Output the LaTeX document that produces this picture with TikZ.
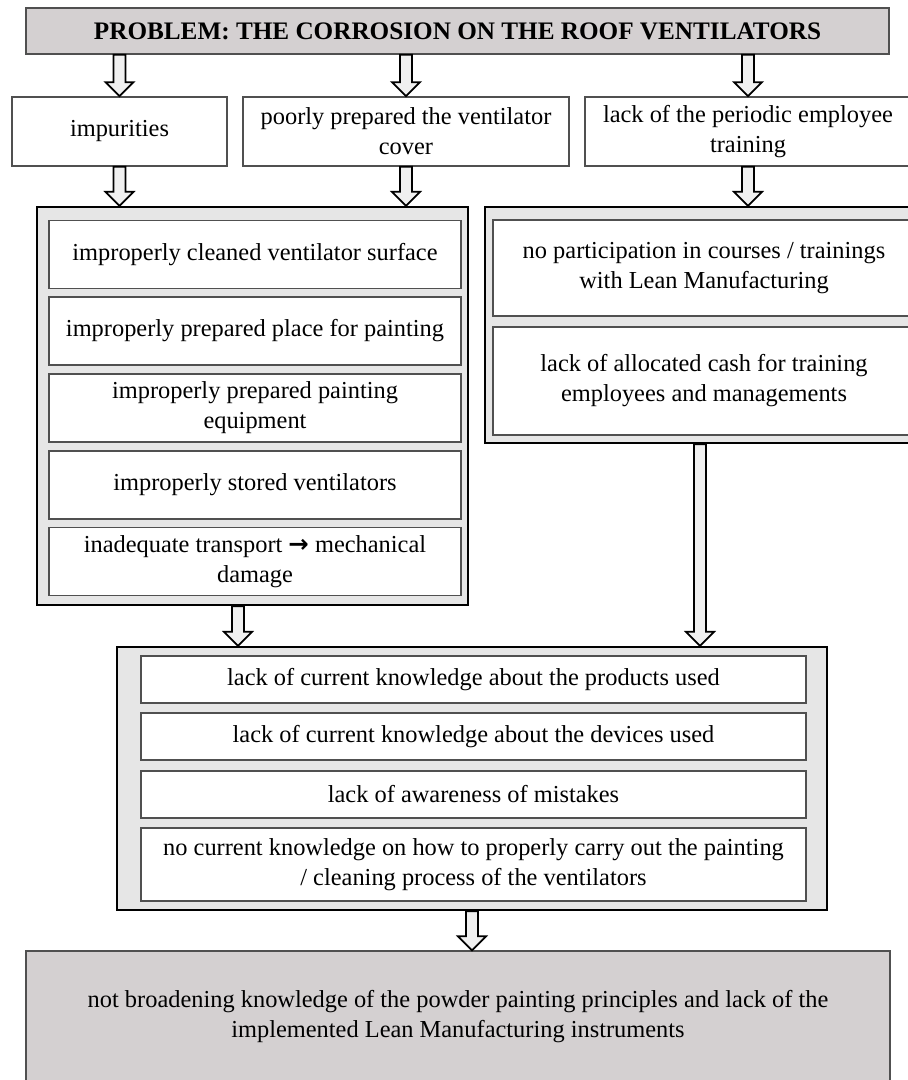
\documentclass[tikz,border=0pt]{standalone}
\usepackage{fontspec}
\setmainfont{Liberation Serif}
\newfontfamily\symfont{DejaVu Sans}
\usetikzlibrary{calc,positioning}
\definecolor{probgray}{RGB}{212,208,209}
\definecolor{groupgray}{RGB}{230,230,230}
\definecolor{arrowgray}{RGB}{240,240,240}
\definecolor{edgegray}{RGB}{80,80,80}
\tikzset{
  every node/.append style={font=\fontsize{12.2}{15}\selectfont},
}
\tikzset{
  box/.style={draw=edgegray, line width=0.8pt, fill=white, align=center, inner sep=2pt},
  group/.style={draw=black, line width=1.2pt, fill=groupgray, inner sep=0pt},
  headbox/.style={draw=edgegray, line width=0.7pt, fill=probgray, align=center, inner sep=2pt},
  blockarrow/.style={draw=black, line width=0.9pt, fill=arrowgray, line join=miter}
}
% hollow block arrow, straight down from #1 to the level of #2
\newcommand{\blockarr}[2]{%
  \draw[blockarrow] let \p1=(#1), \p2=(#2) in
    (\x1-3pt,\y1) -- (\x1-3pt,\y2+7pt) -- (\x1-7pt,\y2+7pt) -- (\x1,\y2)
    -- (\x1+7pt,\y2+7pt) -- (\x1+3pt,\y2+7pt) -- (\x1+3pt,\y1) -- cycle;}

\begin{document}
\begin{tikzpicture}[x=0.5pt, y=-0.5pt]
\useasboundingbox (0,0) rectangle (908,1080);

% --- Problem ---
\node[headbox, minimum width=431.5pt, minimum height=23pt, font=\fontsize{12.6}{15}\selectfont\bfseries]
  (prob) at (457.5,31) {PROBLEM: THE CORROSION ON THE ROOF VENTILATORS};

% --- Main causes ---
\node[box, minimum width=107.5pt, minimum height=34.5pt] (imp) at (119.5,131.5) {impurities};
\node[box, minimum width=163pt, minimum height=34.5pt] (poor) at (406,131.5)
  {poorly prepared the ventilator\\cover};
\node[box, minimum width=163pt, minimum height=34.5pt] (train) at (748,131.5)
  {lack of the periodic employee\\training};

% --- Left group ---
\node[group, minimum width=215.5pt, minimum height=199pt] (grpL) at (252.5,406) {};
\foreach \y/\t [count=\i] in {254.5/{improperly cleaned ventilator surface},
    331/{improperly prepared place for painting},
    408/{improperly prepared painting\\equipment},
    485/{improperly stored ventilators},
    561.5/{inadequate transport {\symfont\bfseries →} mechanical\\damage}} {
  \node[box, minimum width=206pt, minimum height=34pt] (l\i) at (255,\y) {\t};
}

% --- Right group ---
\node[group, minimum width=215pt, minimum height=118pt] (grpR) at (700,325) {};
\node[box, minimum width=211pt, minimum height=48pt] (r1) at (704,268)
  {no participation in courses / trainings\\with Lean Manufacturing};
\node[box, minimum width=211pt, minimum height=54pt] (r2) at (704,381)
  {lack of allocated cash for training\\employees and managements};

% --- Knowledge group ---
\node[group, minimum width=355pt, minimum height=131.5pt] (grpB) at (472,778.5) {};
\foreach \y/\h/\t [count=\i] in {679.5/23.5/{lack of current knowledge about the products used},
    736.5/23.5/{lack of current knowledge about the devices used},
    794.5/23.5/{lack of awareness of mistakes},
    864.5/36.5/{no current knowledge on how to properly carry out the painting\\/ cleaning process of the ventilators}} {
  \node[box, minimum width=332.5pt, minimum height=\h pt] (b\i) at (473.5,\y) {\t};
}

% --- Result ---
\node[headbox, minimum width=432pt, minimum height=65.5pt] (res) at (458,1016.5)
  {not broadening knowledge of the powder painting principles and lack of the\\implemented Lean Manufacturing instruments};

% --- Arrows ---
\coordinate (xL) at (238,0);
\blockarr{prob.south -| imp}{imp.north}
\blockarr{prob.south -| poor}{poor.north}
\blockarr{prob.south -| train}{train.north}
\blockarr{imp.south}{grpL.north -| imp}
\blockarr{poor.south}{grpL.north -| poor}
\blockarr{train.south}{grpR.north -| train}
\blockarr{grpL.south -| xL}{grpB.north -| xL}
\blockarr{grpR.south}{grpB.north -| grpR}
\blockarr{grpB.south}{res.north -| grpB}

\end{tikzpicture}
\end{document}
